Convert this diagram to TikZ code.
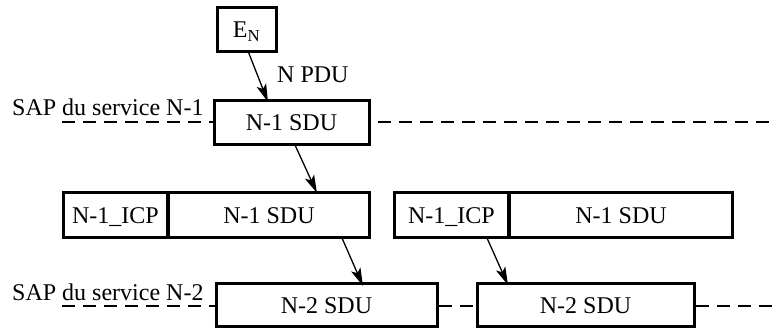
\documentclass[tikz,border=0pt]{standalone}
\usepackage{fontspec}
\setmainfont{Liberation Serif}
\usetikzlibrary{arrows.meta,calc}
\begin{document}
\begin{tikzpicture}[x=1pt,y=-1pt,
  every node/.style={font=\fontsize{24}{28}\selectfont},
  box/.style={draw,line width=3pt,minimum height=#1,inner sep=0pt,
              text height=16pt,text depth=0pt},
  box/.default=44pt,
  flow/.style={line width=1.3pt,-{Stealth[length=18pt,width=10pt,inset=4pt]}},
  sap/.style={line width=2.6pt,dash pattern=on 13pt off 8pt},
  lbl/.style={inner sep=0pt,anchor=base west}]
\useasboundingbox (0,0) rectangle (782,329);

% entity of layer N
\node[box,minimum width=59pt] (EN) at (246.5,29.5) {E\textsubscript{N}};

% service data unit at the N-1 access point
\node[box,minimum width=155pt] (sdu1) at (291.5,122.5) {N-1 SDU};

% two N-1 units, each with its interface control part
\node[box=45pt,minimum width=104pt] (icp1) at (115.5,215) {N-1\_ICP};
\node[box=45pt,minimum width=201pt] (sduA) at (269,215) {N-1 SDU};
\node[box=45pt,minimum width=114pt] (icp2) at (451.5,215) {N-1\_ICP};
\node[box=45pt,minimum width=223pt] (sduB) at (621,215) {N-1 SDU};

% service data units at the N-2 access point
\node[box=43pt,minimum width=221pt] (n2a) at (326.5,305) {N-2 SDU};
\node[box=43pt,minimum width=217pt] (n2b) at (585.5,305) {N-2 SDU};

% service access points
\node[lbl] (sap1) at (12,115) {SAP du service N-1};
\node[lbl] (sap2) at (12,300) {SAP du service N-2};
\coordinate (s1l) at (62,122);
\coordinate (s1r) at (773,122);
\coordinate (s2l) at (62,306);
\coordinate (s2r) at (776,306);
\draw[sap] (s1l) -- (sdu1.west |- s1l);
\draw[sap] ([xshift=7pt]sdu1.east |- s1r) -- (s1r);
\draw[sap] (s2l) -- (n2a.west |- s2l);
\draw[sap] (n2a.east |- s2l) -- (n2b.west |- s2l);
\draw[sap] (n2b.east |- s2r) -- (s2r);

% data flow
\node[lbl] (pdu) at (277,82) {N PDU};
\draw[flow] ([xshift=1.5pt,yshift=2pt]EN.south) -- ([xshift=-23.5pt,yshift=-3pt]sdu1.north);
\draw[flow] ([xshift=3.5pt,yshift=1pt]sdu1.south) -- ([xshift=48pt,yshift=-2pt]sduA.north);
\draw[flow] ([xshift=73pt,yshift=1pt]sduA.south) -- ([xshift=36.5pt,yshift=-4pt]n2a.north);
\draw[flow] ([xshift=35.5pt,yshift=1pt]icp2.south) -- ([xshift=-77.5pt,yshift=-3pt]n2b.north);
\end{tikzpicture}
\end{document}
